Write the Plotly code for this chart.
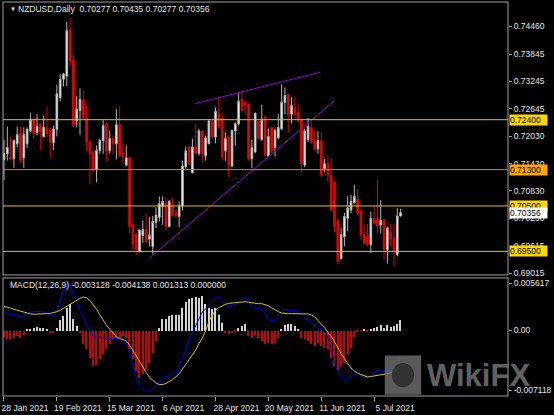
import plotly.graph_objects as go

# ---------------- data ----------------
date_ticks = [0, 16, 32, 48, 64, 80, 96, 112]
date_labels = ["28 Jan 2021", "19 Feb 2021", "15 Mar 2021", "6 Apr 2021",
               "28 Apr 2021", "20 May 2021", "11 Jun 2021", "5 Jul 2021"]

opens = [
    .7152, .7165, .7158, .7154, .7187, .7209, .7156, .7187, .7216, .7241,
    .7212, .7229, .7203, .7223, .7216, .7190, .7219, .7289, .7329, .7336,
    .7438, .7372, .7238, .7260, .7283, .7245, .7192, .7167, .7130, .7172,
    .7194, .7231, .7172, .7198, .7187, .7229, .7165, .7140, .7156, .7009,
    .6987, .6950, .6985, .6998, .6977, .6961, .7014, .7025, .7049, .7057,
    .7005, .7052, .7035, .7027, .7050, .7136, .7180, .7123, .7180, .7166,
    .7215, .7161, .7187, .7237, .7202, .7254, .7242, .7172, .7201, .7138,
    .7215, .7231, .7285, .7278, .7274, .7154, .7169, .7237, .7196, .7246,
    .7161, .7223, .7179, .7200, .7220, .7278, .7295, .7252, .7267, .7256,
    .7239, .7140, .7196, .7223, .7194, .7176, .7194, .7132, .7143, .7118,
    .7103, .7018, .6934, .6983, .7023, .7041, .7057, .7065, .7038, .6987,
    .6985, .6965, .7023, .7020, .7008, .7020, .6954, .6992, .6979, .6943,
    .70277]
highs = [
    .7195, .7225, .7203, .7195, .7225, .7225, .7223, .7223, .7254, .7245,
    .7252, .7232, .7248, .7269, .7223, .7227, .7316, .7340, .7343, .7455,
    .7465, .7383, .7292, .7309, .7303, .7273, .7194, .7174, .7183, .7198,
    .7239, .7234, .7216, .7205, .7263, .7269, .7188, .7183, .7158, .7012,
    .6990, .6998, .7018, .7034, .7025, .7028, .7047, .7071, .7071, .7069,
    .7063, .7067, .7041, .7060, .7150, .7181, .7181, .7198, .7231, .7220,
    .7216, .7205, .7241, .7239, .7267, .7289, .7254, .7212, .7205, .7218,
    .7234, .7300, .7305, .7280, .7276, .7196, .7256, .7238, .7273, .7249,
    .7220, .7225, .7220, .7252, .7318, .7311, .7296, .7289, .7289, .7274,
    .7241, .7220, .7244, .7234, .7216, .7215, .7212, .7154, .7162, .7156,
    .7103, .7020, .7001, .7035, .7071, .7074, .7096, .7087, .7041, .7009,
    .7011, .7038, .7050, .7107, .7063, .7021, .7003, .7011, .7011, .7045,
    .70435]
lows = [
    .7107, .7150, .7150, .7134, .7179, .7145, .7134, .7178, .7212, .7198,
    .7205, .7174, .7201, .7201, .7156, .7174, .7203, .7281, .7314, .7314,
    .7358, .7223, .7223, .7207, .7239, .7172, .7098, .7125, .7103, .7165,
    .7165, .7149, .7165, .7165, .7152, .7158, .7142, .7138, .6990, .6953,
    .6941, .6948, .6969, .6969, .6961, .6945, .7001, .7016, .7009, .6997,
    .7004, .7027, .7025, .7004, .7041, .7132, .7140, .7122, .7165, .7161,
    .7147, .7150, .7186, .7200, .7188, .7220, .7150, .7150, .7114, .7136,
    .7183, .7227, .7258, .7251, .7150, .7134, .7167, .7198, .7194, .7159,
    .7159, .7165, .7159, .7198, .7218, .7252, .7212, .7232, .7245, .7234,
    .7125, .7136, .7191, .7186, .7172, .7165, .7114, .7125, .7103, .7038,
    .6992, .6921, .6932, .6961, .6994, .7034, .7056, .7030, .6977, .6965,
    .6961, .6947, .7009, .6989, .6989, .6933, .6923, .6961, .6917, .6939,
    .70277]
closes = [
    .7166, .7179, .7154, .7194, .7207, .7150, .7207, .7219, .7239, .7209,
    .7225, .7212, .7223, .7209, .7190, .7219, .7297, .7329, .7340, .7436,
    .7369, .7227, .7263, .7285, .7245, .7190, .7165, .7129, .7172, .7194,
    .7227, .7172, .7198, .7187, .7229, .7162, .7158, .7156, .7005, .6965,
    .6954, .6997, .6998, .6972, .6985, .7016, .7030, .7055, .7060, .7005,
    .7060, .7030, .7028, .7050, .7138, .7171, .7143, .7180, .7166, .7215,
    .7165, .7200, .7237, .7202, .7258, .7223, .7158, .7198, .7140, .7216,
    .7231, .7280, .7260, .7271, .7154, .7178, .7254, .7200, .7238, .7161,
    .7203, .7172, .7216, .7223, .7278, .7293, .7252, .7271, .7252, .7238,
    .7143, .7215, .7225, .7191, .7176, .7194, .7118, .7143, .7118, .7041,
    .7005, .6928, .6987, .7027, .7045, .7060, .7071, .7034, .6987, .6968,
    .6965, .7023, .7012, .7006, .7018, .6954, .7001, .6977, .6950, .7028,
    .70356]

macd_hist = [
    -0.00076, -0.00096, -0.00104, -0.00084, -0.00064, -0.00084, -0.00052, 0.00008, 0.00024, 0.00036,
    0.00044, 0.00036, 0.00028, 0.00016, -0.00024, -0.00024, 0.00036, 0.00124, 0.00175, 0.00275,
    0.00323, 0.00135, 0.00056, -0.00024, -0.00163, -0.00223, -0.00323, -0.00422, -0.00410, -0.00343,
    -0.00283, -0.00223, -0.00163, -0.00104, -0.00084, -0.00084, -0.00064, -0.00084, -0.00223, -0.00343,
    -0.00482, -0.00562, -0.00522, -0.00462, -0.00382, -0.00263, -0.00124, 0.00036, 0.00135, 0.00135,
    0.00175, 0.00187, 0.00187, 0.00187, 0.00267, 0.00347, 0.00374, 0.00394, 0.00402, 0.00394,
    0.00414, 0.00323, 0.00275, 0.00255, 0.00267, 0.00187, 0.00096, -0.00024, -0.00036, -0.00024,
    -0.00012, 0.00028, 0.00056, 0.00076, -0.00064, -0.00084, -0.00052, -0.00092, -0.00124, -0.00155,
    -0.00143, -0.00163, -0.00143, -0.00084, 0.00016, 0.00068, 0.00076, 0.00084, 0.00056, 0.00016,
    -0.00084, -0.00104, -0.00124, -0.00163, -0.00183, -0.00143, -0.00183, -0.00203, -0.00223, -0.00323,
    -0.00422, -0.00474, -0.00422, -0.00382, -0.00283, -0.00211, -0.00076, -0.00012, -0.00004, 0.00008,
    -0.00016, 0.00016, 0.00036, 0.00044, 0.00068, 0.00036, 0.00064, 0.00044, 0.00056, 0.00084,
    0.001313]
macd_line = [
    0.00235, 0.00203, 0.00195, 0.00195, 0.00175, 0.00155, 0.00175, 0.00203, 0.00219, 0.00227,
    0.00227, 0.00227, 0.00223, 0.00215, 0.00187, 0.00183, 0.00235, 0.00354, 0.00474, 0.005617,
    0.00540, 0.00442, 0.00354, 0.00235, 0.00155, 0.00076, -0.00004, -0.00064, -0.00084, -0.00076,
    -0.00084, -0.00103, -0.00103, -0.00092, -0.00092, -0.00123, -0.00135, -0.00155, -0.00263, -0.00422,
    -0.00561, -0.00661, -0.00700, -0.00710, -0.007118, -0.00704, -0.00649, -0.00609, -0.00561, -0.00553,
    -0.00541, -0.00525, -0.00490, -0.00422, -0.00322, -0.00211, -0.00103, -0.00024, 0.00056, 0.00147,
    0.00223, 0.00255, 0.00295, 0.00346, 0.00394, 0.00402, 0.00346, 0.00302, 0.00283, 0.00302,
    0.00314, 0.00346, 0.00386, 0.00402, 0.00354, 0.00275, 0.00263, 0.00255, 0.00255, 0.00187,
    0.00131, 0.00115, 0.00127, 0.00175, 0.00235, 0.00255, 0.00247, 0.00235, 0.00243, 0.00227,
    0.00187, 0.00151, 0.00123, 0.00092, 0.00064, 0.00028, 0.00016, -0.00012, -0.00084, -0.00211,
    -0.00382, -0.00490, -0.00553, -0.00593, -0.00577, -0.00549, -0.00521, -0.00501, -0.00533, -0.00553,
    -0.00561, -0.00529, -0.00501, -0.00478, -0.00466, -0.00482, -0.00486, -0.00470, -0.00434, -0.00382,
    -0.003128]
signal_line = [
    0.00288, 0.00280, 0.00269, 0.00253, 0.00241, 0.00225, 0.00213, 0.00201, 0.00198, 0.00194,
    0.00194, 0.00194, 0.00198, 0.00201, 0.00205, 0.00213, 0.00225, 0.00241, 0.00265, 0.00292,
    0.00320, 0.00344, 0.00363, 0.00383, 0.00399, 0.00391, 0.00359, 0.00312, 0.00253, 0.00186,
    0.00122, 0.00063, 0.00016, -0.00028, -0.00075, -0.00095, -0.00107, -0.00122, -0.00174, -0.00241,
    -0.00308, -0.00371, -0.00431, -0.00498, -0.00557, -0.00596, -0.00628, -0.00644, -0.00644, -0.00632,
    -0.00612, -0.00585, -0.00553, -0.00517, -0.00462, -0.00407, -0.00348, -0.00288, -0.00233, -0.00154,
    -0.00095, -0.00004, 0.00107, 0.00186, 0.00241, 0.00273, 0.00296, 0.00312, 0.00324, 0.00328,
    0.00332, 0.00336, 0.00340, 0.00344, 0.00336, 0.00328, 0.00320, 0.00320, 0.00320, 0.00312,
    0.00296, 0.00269, 0.00245, 0.00225, 0.00209, 0.00201, 0.00201, 0.00201, 0.00201, 0.00201,
    0.00201, 0.00201, 0.00198, 0.00186, 0.00162, 0.00119, 0.00079, 0.00036, -0.00020, -0.00067,
    -0.00134, -0.00209, -0.00273, -0.00336, -0.00399, -0.00446, -0.00482, -0.00510, -0.00525, -0.00537,
    -0.00553, -0.00549, -0.00541, -0.00529, -0.00525, -0.00521, -0.00517, -0.00506, -0.00490, -0.00462,
    -0.004138]

price_ticks = [0.74460, 0.73845, 0.73245, 0.72645, 0.72030,
               0.71430, 0.70830, 0.70230, 0.69615, 0.69015]
macd_ticks = [0.005617, 0.0, -0.007118]
macd_tick_labels = ["0.005617", "0.00", "-0.007118"]

levels = [0.72400, 0.71300, 0.70500, 0.69500]
level_line_colors = ["#e6c200", "#e08a00", "#e6c200", "#e6c200"]
level_box_colors = ["#ffd700", "#ffa500", "#ffd700", "#ffd700"]
current_price = 0.70356

upper_trend_x = [57.9, 95.7]
upper_trend_y = [0.72755, 0.73446]
lower_trend_x = [44.0, 99.9]
lower_trend_y = [0.69354, 0.72812]

title_text = "NZDUSD,Daily\u00a0\u00a00.70277 0.70435 0.70277 0.70356"
macd_text = "MACD(12,26,9) -0.003128 -0.004138 0.001313 0.000000"

# ---------------- figure ----------------
idx = list(range(len(closes)))
FONT = "Liberation Sans, Arial, sans-serif"
TXT = "#e6e6e6"
FRAME = "#a0a0a0"

fig = go.Figure()

fig.add_trace(go.Candlestick(
    x=idx, open=opens, high=highs, low=lows, close=closes,
    increasing=dict(line=dict(color="#b4b4b4", width=1), fillcolor="#ffffff"),
    decreasing=dict(line=dict(color="#e00000", width=1), fillcolor="#ff0000"),
    whiskerwidth=0, xaxis="x", yaxis="y", showlegend=False, hoverinfo="skip"))

for tx, ty in ((upper_trend_x, upper_trend_y), (lower_trend_x, lower_trend_y)):
    fig.add_trace(go.Scatter(x=tx, y=ty, mode="lines",
                             line=dict(color="#9400d3", width=1),
                             xaxis="x", yaxis="y", showlegend=False, hoverinfo="skip"))

hist_colors = ["#d2d2d2" if v >= 0 else "#d00000" for v in macd_hist]
fig.add_trace(go.Bar(x=idx, y=macd_hist, width=0.4, marker=dict(color=hist_colors, line=dict(width=0)),
                     xaxis="x", yaxis="y2", showlegend=False, hoverinfo="skip"))
fig.add_trace(go.Scatter(x=idx, y=macd_line, mode="lines", line=dict(color="#0000ff", width=1),
                         xaxis="x", yaxis="y2", showlegend=False, hoverinfo="skip"))
fig.add_trace(go.Scatter(x=idx, y=signal_line, mode="lines", line=dict(color="#d2c800", width=1),
                         xaxis="x", yaxis="y2", showlegend=False, hoverinfo="skip"))

MAIN_DOM = [0.3073, 1.0]
MACD_DOM = [0.0, 0.2997]

shapes = []
for lv, lc in zip(levels, level_line_colors):
    shapes.append(dict(type="line", xref="paper", x0=0, x1=1, yref="y", y0=lv, y1=lv,
                       line=dict(color=lc, width=1), layer="above"))
shapes.append(dict(type="rect", xref="paper", yref="paper", x0=0, x1=1,
                   y0=MAIN_DOM[0], y1=MAIN_DOM[1], line=dict(color=FRAME, width=1)))
shapes.append(dict(type="rect", xref="paper", yref="paper", x0=0, x1=1,
                   y0=MACD_DOM[0], y1=MACD_DOM[1], line=dict(color=FRAME, width=1)))
# watermark logo
shapes.append(dict(type="rect", xref="paper", yref="paper", x0=0.756, x1=0.828,
                   y0=0.003, y1=0.103, fillcolor="rgba(120,120,120,0.75)", line=dict(width=0)))
shapes.append(dict(type="circle", xref="paper", yref="paper", x0=0.770, x1=0.814,
                   y0=0.022, y1=0.084, fillcolor="rgba(40,40,40,0.8)", line=dict(width=0)))

annotations = []
for lv, bc in zip(levels, level_box_colors):
    annotations.append(dict(xref="paper", x=1, xanchor="left", xshift=1, yref="y", y=lv,
                            text=f"{lv:.5f}", showarrow=False, bgcolor=bc, borderpad=0,
                            width=37, height=10, align="left",
                            font=dict(family=FONT, size=8.5, color="#000000")))
annotations.append(dict(xref="paper", x=1, xanchor="left", xshift=1, yref="y", y=current_price,
                        text=f"{current_price:.5f}", showarrow=False, bgcolor="#ffffff", borderpad=0,
                        width=37, height=10, align="left",
                        font=dict(family=FONT, size=8.5, color="#000000")))
annotations.append(dict(xref="paper", yref="paper", x=0.0097, y=0.982, xanchor="left", yanchor="middle",
                        text="\u25bc", showarrow=False, font=dict(family=FONT, size=6, color=TXT)))
annotations.append(dict(xref="paper", yref="paper", x=0.0253, y=0.982, xanchor="left", yanchor="middle",
                        text=title_text, showarrow=False, font=dict(family=FONT, size=8.5, color=TXT)))
annotations.append(dict(xref="paper", yref="paper", x=0.0097, y=0.282, xanchor="left", yanchor="middle",
                        text=macd_text, showarrow=False, font=dict(family=FONT, size=8.5, color=TXT)))
annotations.append(dict(xref="paper", yref="paper", x=0.836, y=0.052, xanchor="left", yanchor="middle",
                        text="<b>WikiFX</b>", showarrow=False,
                        font=dict(family=FONT, size=31, color="rgba(125,125,125,0.8)")))

fig.update_layout(
    width=554, height=415,
    margin=dict(l=2, r=39, t=2, b=16),
    paper_bgcolor="#000000", plot_bgcolor="#000000",
    showlegend=False, bargap=0, boxgap=0.3,
    font=dict(family=FONT, size=8.5, color=TXT),
    xaxis=dict(range=[-0.3, 152.5], anchor="y2", tickmode="array", tickvals=date_ticks,
               ticktext=date_labels, ticks="outside", ticklen=4, tickcolor=FRAME,
               tickfont=dict(family=FONT, size=8.5, color=TXT), ticklabelshift=21,
               showgrid=False, zeroline=False, showline=False,
               rangeslider=dict(visible=False), fixedrange=True),
    yaxis=dict(domain=MAIN_DOM, range=[0.68982, 0.74991], side="right", anchor="x",
               tickmode="array", tickvals=price_ticks, ticktext=[f"{v:.5f}" for v in price_ticks],
               ticks="outside", ticklen=3, tickcolor=FRAME,
               tickfont=dict(family=FONT, size=8.5, color=TXT),
               showgrid=False, zeroline=False, showline=False, fixedrange=True),
    yaxis2=dict(domain=MACD_DOM, range=[-0.007811, 0.006273], side="right", anchor="x",
                tickmode="array", tickvals=macd_ticks, ticktext=macd_tick_labels,
                ticks="outside", ticklen=3, tickcolor=FRAME,
                tickfont=dict(family=FONT, size=8.5, color=TXT),
                showgrid=False, zeroline=False, showline=False, fixedrange=True),
    shapes=shapes, annotations=annotations,
)

fig.write_html("out.html", config={"displayModeBar": False},
               post_script="document.body.style.margin='0';document.body.style.background='#000';")
